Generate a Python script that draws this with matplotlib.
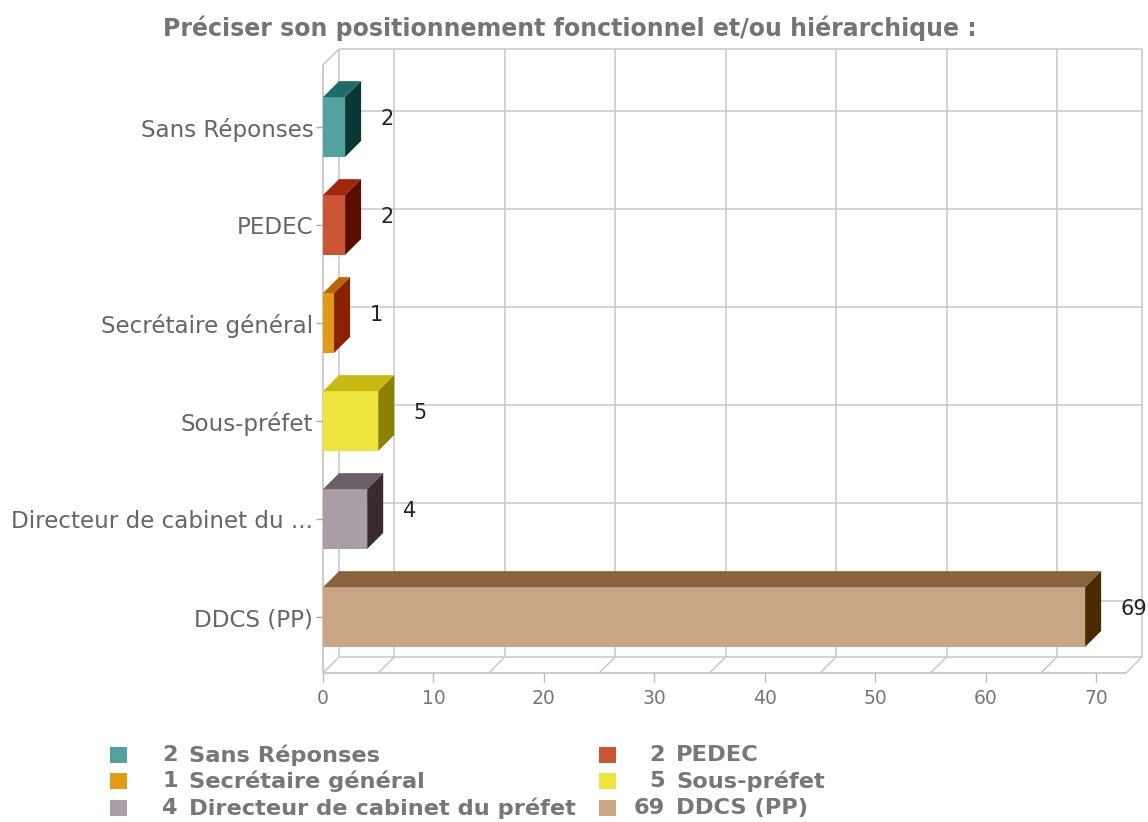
import matplotlib.pyplot as plt
from matplotlib.patches import Polygon, Rectangle
import numpy as np

title = "Préciser son positionnement fonctionnel et/ou hiérarchique :"
categories = ["Sans Réponses", "PEDEC", "Secrétaire général", "Sous-préfet",
              "Directeur de cabinet du préfet", "DDCS (PP)"]
tick_labels = ["Sans Réponses", "PEDEC", "Secrétaire général", "Sous-préfet",
               "Directeur de cabinet du ...", "DDCS (PP)"]
values = [2, 2, 1, 5, 4, 69]
x_ticks = [0, 10, 20, 30, 40, 50, 60, 70]

front_colors = ['#52A39F', '#CC5535', '#E39A17', '#EFE33E', '#A99EA6', '#C8A584']
top_colors = ['#1E6B67', '#A0260E', '#B8680A', '#C9BA12', '#6D5F67', '#89633F']
side_colors = ['#0A3634', '#5A0E00', '#8A2200', '#8C8000', '#3A2B33', '#4B2903']

W, H = 1148, 822
fig = plt.figure(figsize=(W / 100, H / 100), dpi=100)
ax = fig.add_axes([323 / W, (H - 673) / H, 819 / W, 624 / H])

# pseudo-3d geometry (data units)
xmax = 72.7
dx, dy = 1.45, 0.163
y0, y1 = -0.571, 5.633
bar_h = 0.61
ax.set_xlim(0, xmax + dx)
ax.set_ylim(y0, y1 + dy)
for s in ax.spines.values():
    s.set_visible(False)

ypos = np.arange(len(categories))[::-1]
gcol = '#c8c8c8'
lw = 1.1

def line(xs, ys, color=gcol):
    ax.plot(xs, ys, color=color, lw=lw, zorder=1, clip_on=False,
            solid_capstyle='butt')

# walls
line([dx, xmax + dx], [y0 + dy, y0 + dy])
line([dx, xmax + dx], [y1 + dy, y1 + dy])
line([dx, dx], [y0 + dy, y1 + dy])
line([xmax + dx, xmax + dx], [y0 + dy, y1 + dy])
line([0, 0], [y0, y1], color='#bdbdbd')
line([0, xmax], [y0, y0], color='#bdbdbd')
line([0, dx], [y1, y1 + dy])
for gv in [0] + list(np.arange(5, 70, 10)) + [xmax]:
    line([gv, gv + dx], [y0, y0 + dy])
for gv in np.arange(5, 70, 10):
    line([gv + dx, gv + dx], [y0 + dy, y1 + dy])
for y in ypos:
    line([dx, xmax + dx], [y + dy, y + dy])

# bars
ax.barh(ypos, values, height=bar_h, color=front_colors, linewidth=0, zorder=3)
for y, v, tc, sc in zip(ypos, values, top_colors, side_colors):
    yt, yb = y + bar_h / 2, y - bar_h / 2
    ax.add_patch(Polygon([(0, yt), (v, yt), (v + dx, yt + dy), (dx, yt + dy)],
                         closed=True, facecolor=tc, edgecolor='none', zorder=3))
    ax.add_patch(Polygon([(v, yb), (v + dx, yb + dy), (v + dx, yt + dy), (v, yt)],
                         closed=True, facecolor=sc, edgecolor='none', zorder=3))
    ax.text(v + 3.2, y + 0.08, str(v), ha='left', va='center', fontsize=15,
            color='#222222', zorder=4, clip_on=False)

ax.set_xticks(x_ticks)
ax.tick_params(axis='x', length=6.5, width=1, color='#bbbbbb', labelcolor='#777777',
               labelsize=13.5, pad=5)
ax.set_yticks(ypos, tick_labels)
ax.tick_params(axis='y', length=5, width=1, color='#aaaaaa', labelcolor='#666666',
               labelsize=16.6, pad=2)

fig.text(570 / W, 1 - 28 / H, title, ha='center', va='center', fontsize=17,
         fontweight='bold', color='#747474')

# legend
rows_px = [755, 781, 808]
sq_x = [110, 599]
num_x = [178, 665]
name_x = [189, 676]
for i, (cat, v, c) in enumerate(zip(categories, values, front_colors)):
    r, k = i // 2, i % 2
    yc = rows_px[r]
    fig.add_artist(Rectangle((sq_x[k] / W, 1 - (yc + 8) / H), 17 / W, 16 / H,
                             transform=fig.transFigure, facecolor=c, edgecolor='none'))
    fig.text(num_x[k] / W, 1 - yc / H, str(v), ha='right', va='center', fontsize=16.2,
             fontweight='bold', color='#777777')
    fig.text(name_x[k] / W, 1 - yc / H, cat, ha='left', va='center', fontsize=16.2,
             fontweight='bold', color='#777777')

fig.savefig('out.png', dpi=100)
